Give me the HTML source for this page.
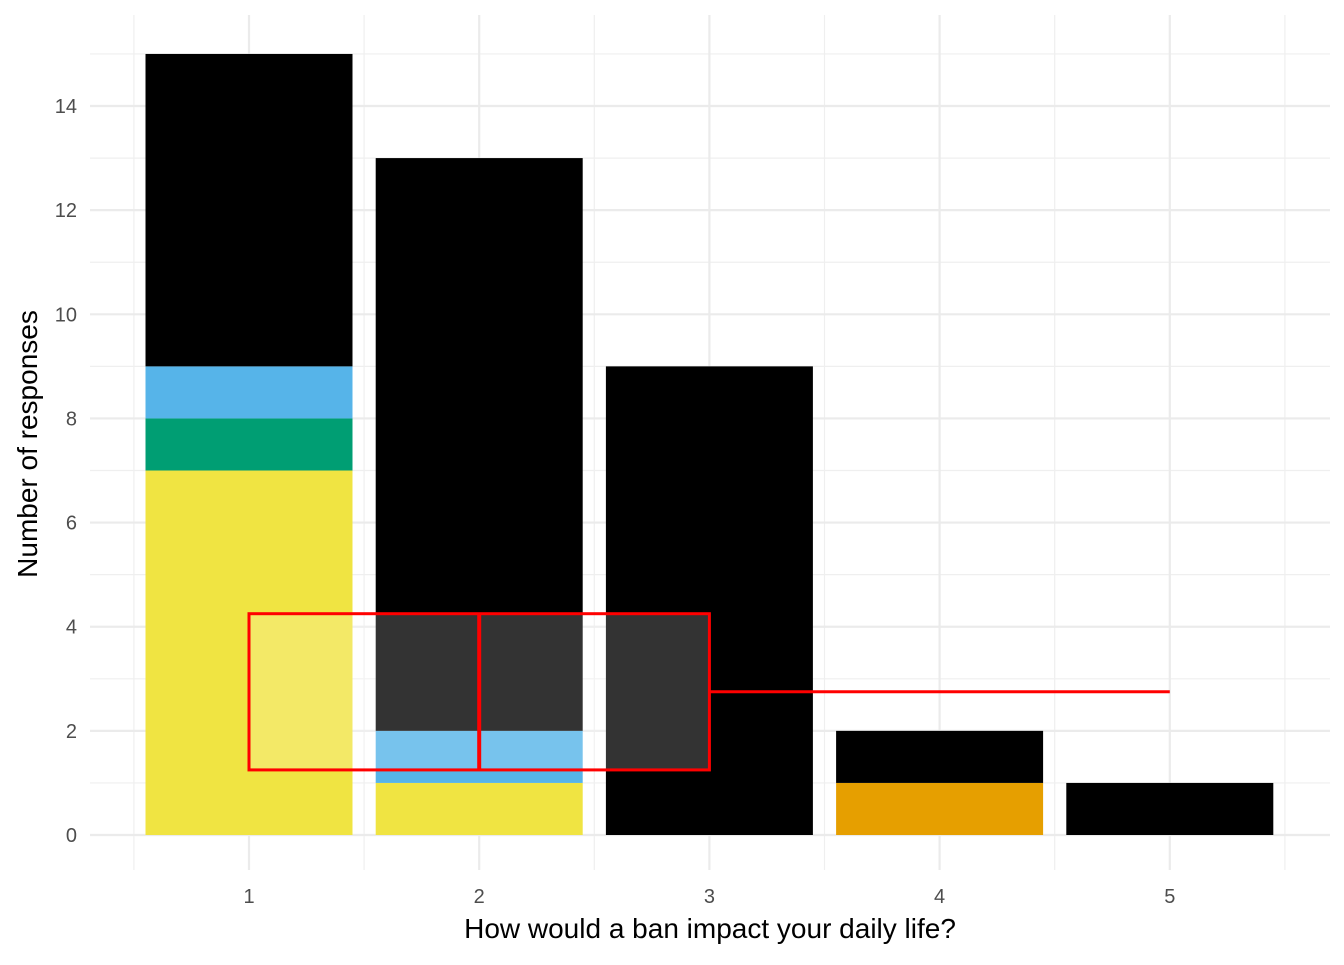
<!DOCTYPE html>
<html><head><meta charset="utf-8"><style>
body{margin:0;background:#fff;font-family:"Liberation Sans",sans-serif}
</style></head><body>
<svg id="chart" width="1344" height="960" xmlns="http://www.w3.org/2000/svg"></svg>
<script>
const categories=[1,2,3,4,5];
const yellowVals=[7,1,0,0,0];
const greenVals=[1,0,0,0,0];
const blueVals=[1,1,0,0,0];
const orangeVals=[0,0,0,1,0];
const blackVals=[6,11,9,1,1];
const seriesColors=["#F0E442","#009E73","#56B4E9","#E69F00","#000000"];
const seriesNames=["yellow","green","blue","orange","black"];
const yTicks=[0,2,4,6,8,10,12,14];
const xLabel="How would a ban impact your daily life?";
const yLabel="Number of responses";
const overlayX=[1,3];const overlayY=[1.25,4.25];const lineY=2.75;const lineX=[3,5];

const svgEl=document.getElementById('chart');const NS="http://www.w3.org/2000/svg";
const X=v=>249+(v-1)*230.2;const Y=v=>835-v*52.07;
function mk(t,a,p){const e=document.createElementNS(NS,t);for(const k in a)e.setAttribute(k,a[k]);(p||svgEl).appendChild(e);return e;}
const plotLeft=90,plotRight=1330,plotTop=15,plotBottom=870;
const grid=mk('g',{});


for(let v=1;v<=15;v+=2)mk('line',{x1:plotLeft,x2:plotRight,y1:Y(v),y2:Y(v),stroke:'#efefef','stroke-width':1.2},grid);
for(let c=0.5;c<=5.5;c+=1)mk('line',{x1:X(c),x2:X(c),y1:plotTop,y2:plotBottom,stroke:'#efefef','stroke-width':1.2},grid);
yTicks.forEach(v=>mk('line',{x1:plotLeft,x2:plotRight,y1:Y(v),y2:Y(v),stroke:'#ebebeb','stroke-width':2.2},grid));
categories.forEach(c=>mk('line',{x1:X(c),x2:X(c),y1:plotTop,y2:plotBottom,stroke:'#ebebeb','stroke-width':2.2},grid));
const series=[yellowVals,greenVals,blueVals,orangeVals,blackVals];
const bw=207;
categories.forEach((c,i)=>{let base=0;series.forEach((s,j)=>{const v=s[i];if(v>0){const r=mk('rect',{x:X(c)-bw/2,y:Y(base+v),width:bw,height:Y(base)-Y(base+v),fill:seriesColors[j]});

base+=v;}});});
const ov=mk('rect',{x:X(overlayX[0]),y:Y(overlayY[1]),width:X(overlayX[1])-X(overlayX[0]),height:Y(overlayY[0])-Y(overlayY[1]),fill:'rgba(255,255,255,0.2)',stroke:'red','stroke-width':3});


const mid=mk('line',{x1:X(2),x2:X(2),y1:Y(overlayY[1]),y2:Y(overlayY[0]),stroke:'red','stroke-width':4});


const hl=mk('line',{x1:X(lineX[0]),x2:X(lineX[1]),y1:Y(lineY),y2:Y(lineY),stroke:'red','stroke-width':3});


yTicks.forEach(v=>{const t=mk('text',{x:77,y:Y(v)+7,'text-anchor':'end','font-size':20,fill:'#4d4d4d'});t.textContent=v;

});
categories.forEach(c=>{const t=mk('text',{x:X(c),y:903,'text-anchor':'middle','font-size':20,fill:'#4d4d4d'});t.textContent=c;

});
const xt=mk('text',{x:710,y:938,'text-anchor':'middle','font-size':28,fill:'#000'});xt.textContent=xLabel;


const yt=mk('text',{x:0,y:0,'text-anchor':'middle','font-size':28,fill:'#000',transform:'translate(37,444) rotate(-90)'});yt.textContent=yLabel;


</script>
</body></html>
